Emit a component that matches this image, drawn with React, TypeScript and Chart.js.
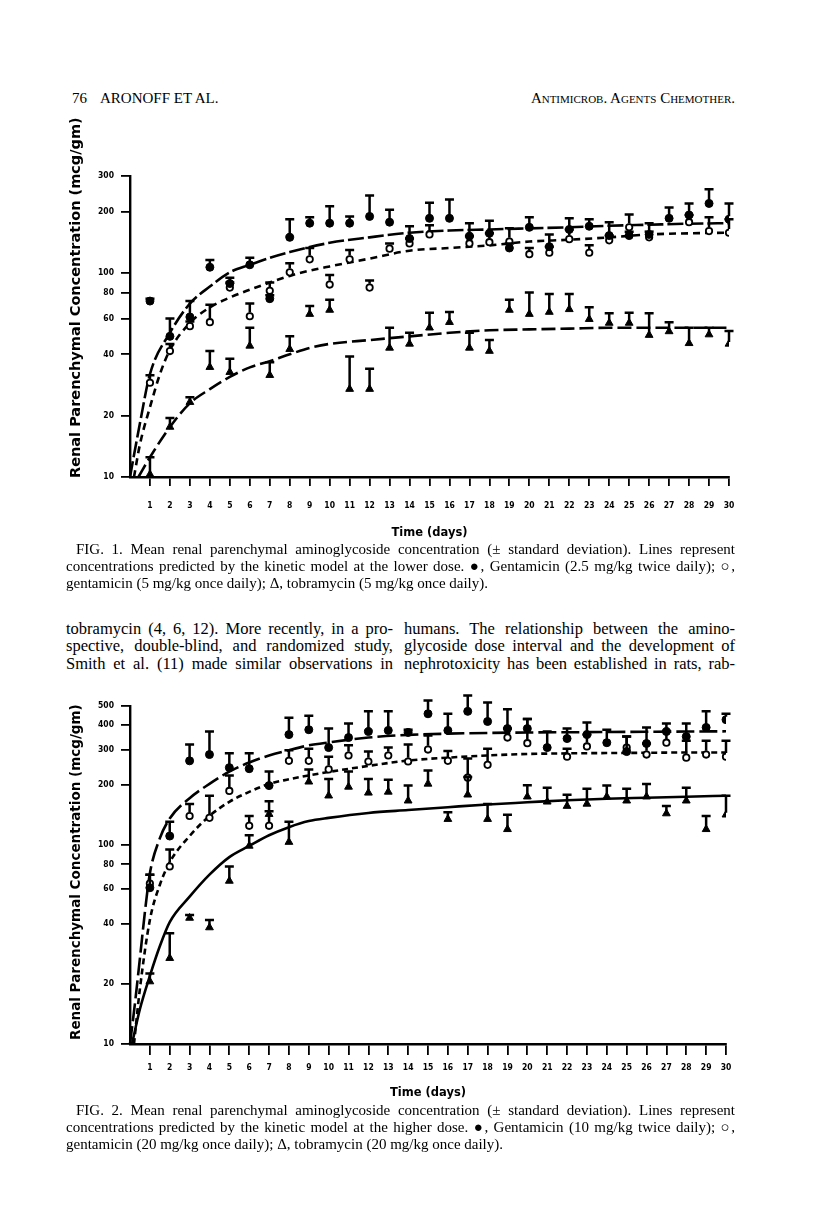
import React, { useEffect, useRef } from "react";
import { Chart, registerables } from "chart.js";

Chart.register(...registerables);

// ---------- shared axis data ----------
const DAYS = [1, 2, 3, 4, 5, 6, 7, 8, 9, 10, 11, 12, 13, 14, 15, 16, 17, 18, 19, 20, 21, 22, 23, 24, 25, 26, 27, 28, 29, 30];
const FIG1_Y_TICKS = [10, 20, 40, 60, 80, 100, 200, 300];
const FIG2_Y_TICKS = [10, 20, 40, 60, 80, 100, 200, 300, 400, 500];

// ---------- FIG. 1 (lower dose) ----------
const FIG1_GENT_BID_MEAN = [73, 49, 61, 107, 89, 110, 75, 150, 176, 176, 176, 190, 178, 148, 186, 186, 152, 157, 133, 168, 135, 164, 170, 153, 153, 155, 186, 193, 220, 184];
const FIG1_GENT_BID_UPPER = [75, 60, 73, 116, 95, 119, 78, 184, 188, 213, 190, 241, 205, 170, 222, 230, 176, 181, 140, 188, 155, 186, 184, 178, 160, 160, 210, 220, 258, 220];
const FIG1_GENT_QD_MEAN = [29, 41.5, 55, 57.5, 85, 61.5, 82, 101, 117, 88, 117, 85, 132, 140, 155, null, 140, 142, 143, 124, 126, 147, 126, 145, 168, 150, null, 178, 161, 158];
const FIG1_GENT_QD_UPPER = [31.6, 45, 58, 70, 90, 71, 90, 112, 133, 98, 130, 92, 140, 148, 172, null, 152, 157, 166, 133, 135, 164, 137, 153, 194, 176, null, 193, 188, 184];
const FIG1_TOBRA_MEAN = [10.3, 17.6, 23.3, 34.6, 32.7, 44, 31.6, 42.4, 63, 66, 27, 27, 43, 45, 54, 57.5, 43, 41.5, 66, 63, 64.5, 66.5, 59.5, 57, 57, 49.7, 51.8, 45.3, 50, 45];
const FIG1_TOBRA_UPPER = [12.5, 19.5, 24.6, 41.5, 38, 54, 36.6, 49, 69, 74, 39, 34, 54, 51, 64, 64.5, 51, 47, 74, 80.5, 79, 79, 68, 63.6, 64, 63.6, 57.5, 54, 54, 52];

const FIG1_BID_CURVE_DAYS = [0, 0.5, 1, 2, 3, 4, 5, 6, 7, 8, 10, 12, 14, 16, 18, 20, 22, 24, 26, 28, 30];
const FIG1_BID_CURVE = [10, 18.4, 32, 51, 71, 86, 101, 110, 119, 127, 141, 150, 158, 162, 164, 166, 168, 171, 173, 175, 176];
const FIG1_QD_CURVE_DAYS = [0.2, 0.5, 1, 1.5, 2, 3, 4, 5, 6, 7, 8, 9, 10, 12, 14, 16, 18, 20, 22, 24, 26, 28, 30];
const FIG1_QD_CURVE = [10, 14.5, 22, 32, 42, 57, 68, 76, 83, 90, 97, 103, 108, 118, 129, 133, 137, 143, 146, 150, 155, 157, 158];
const FIG1_TOBRA_CURVE_DAYS = [0.42, 1, 2, 3, 4, 5, 6, 7, 8, 9, 10, 12, 14, 16, 18, 20, 22, 24, 26, 28, 30];
const FIG1_TOBRA_CURVE = [10, 12.5, 17.6, 23, 27, 31, 34.5, 37, 40, 43, 45, 47, 49, 51, 52.5, 53, 53.5, 54, 54, 54, 54];

// ---------- FIG. 2 (higher dose) ----------
const FIG2_GENT_BID_MEAN = [61, 111, 265, 285, 245, 242, 199, 359, 380, 309, 347, 372, 377, 368, 457, 377, 470, 418, 385, 385, 309, 343, 359, 327, 295, 324, 372, 351, 390, 427];
const FIG2_GENT_BID_UPPER = [71, 131, 320, 372, 289, 289, 234, 437, 447, 385, 408, 470, 470, 380, 533, 457, 565, 520, 482, 430, 372, 385, 413, 380, 351, 390, 408, 408, 470, 457];
const FIG2_GENT_QD_MEAN = [64, 78, 140, 137, 187, 125, 125, 265, 265, 240, 282, 263, 282, 263, 302, 265, 218, 253, 347, 325, null, 278, 313, null, 309, 285, 327, 275, 285, 278];
const FIG2_GENT_QD_UPPER = [71, 95, 161, 177, 224, 140, 166, 300, 305, 278, 317, 295, 309, 320, 355, 297, 272, 305, 385, 430, null, 305, 359, null, 351, 324, 372, 334, 334, 334];
const FIG2_TOBRA_MEAN = [20.6, 27, 43, 38.5, 66, 99, 143, 103.5, 208, 177, 196, 183, 185, 167, 203, 135, 179, 135, 120, 175, 165, 157, 161, 175, 167, 175, 144, 167, 120, 142];
const FIG2_TOBRA_UPPER = [22.6, 36, 44.5, 42, 78, 112, 148, 131, 240, 215, 234, 215, 213, 199, 237, 146, 220, 161, 142, 200, 194, 179, 192, 199, 192, 203, 157, 194, 140, 177];

const FIG2_BID_CURVE_DAYS = [0, 0.25, 0.5, 0.75, 1, 1.5, 2, 3, 4, 5, 6, 7, 8, 9, 10, 12, 14, 16, 18, 20, 22, 24, 26, 28, 30];
const FIG2_BID_CURVE = [10, 16, 27, 46, 72, 108, 136, 172, 203, 234, 260, 282, 300, 317, 328, 347, 358, 363, 366, 368, 369, 370, 371, 372, 373];
const FIG2_QD_CURVE_DAYS = [0.2, 0.5, 1, 1.5, 2, 3, 4, 5, 6, 7, 8, 9, 10, 12, 14, 16, 18, 20, 22, 24, 26, 28, 30];
const FIG2_QD_CURVE = [10, 19, 42, 63, 82, 111, 140, 165, 185, 203, 214, 224, 233, 250, 266, 275, 282, 287, 289, 290, 291, 292, 292];
const FIG2_TOBRA_CURVE_DAYS = [0.1, 0.5, 1, 1.5, 2, 3, 4, 5, 6, 7, 8, 9, 10, 12, 14, 16, 18, 20, 22, 24, 26, 28, 30];
const FIG2_TOBRA_CURVE = [10, 15, 22, 31, 41, 55, 71, 87, 99, 112, 123, 132, 137, 145, 150, 155, 160, 164, 168, 171, 173, 175, 177];

const Y_TITLE = "Renal Parenchymal Concentration (mcg/gm)";
const X_TITLE = "Time (days)";
const TICK_FAMILY = '"DejaVu Sans Condensed", "Liberation Sans Narrow", "DejaVu Sans", sans-serif';
const SERIF = '"Liberation Serif", "DejaVu Serif", serif';

// ---------- plugins ----------
const errorBarPlugin = {
  id: "errorBars",
  afterDatasetsDraw(chart: any) {
    const ctx = chart.ctx;
    const xs = chart.scales.x;
    const ys = chart.scales.y;
    chart.data.datasets.forEach((ds: any) => {
      if (!ds.hasErrorBars) return;
      ctx.save();
      ctx.strokeStyle = "#000";
      ctx.lineWidth = 2.5;
      ds.data.forEach((p: any) => {
        if (p.up == null) return;
        const px = xs.getPixelForValue(p.x);
        const py = ys.getPixelForValue(p.y);
        const pu = ys.getPixelForValue(p.up);
        const start = py - ds.barGap;
        ctx.beginPath();
        if (pu < start) {
          ctx.moveTo(px, start);
          ctx.lineTo(px, pu);
        }
        ctx.moveTo(px - 4.5, pu);
        ctx.lineTo(px + 4.5, pu);
        ctx.stroke();
      });
      ctx.restore();
    });
  },
};

const yTitlePlugin = {
  id: "yTitle",
  afterDraw(chart: any, _args: any, o: any) {
    const ctx = chart.ctx;
    ctx.save();
    ctx.translate(o.x, chart.chartArea.bottom + o.dy);
    ctx.rotate(-Math.PI / 2);
    ctx.font = o.font;
    if ("letterSpacing" in ctx) ctx.letterSpacing = o.spacing;
    ctx.fillStyle = "#000";
    ctx.textAlign = "left";
    ctx.textBaseline = "middle";
    ctx.fillText(o.text, 0, 0);
    ctx.restore();
  },
};

function markers(mean: (number | null)[], upper: (number | null)[]) {
  const out: any[] = [];
  DAYS.forEach((d, i) => {
    if (mean[i] == null) return;
    out.push({ x: d, y: mean[i], up: upper[i] });
  });
  return out;
}

function curve(days: number[], vals: number[]) {
  return days.map((d, i) => ({ x: d, y: vals[i] }));
}

type Spec = {
  left: number; top: number; w: number; h: number;
  padTop: number; padRight: number; padBottom: number;
  xAxisHeight: number; xTickLen: number; xLabelPad: number; xTitlePad: number;
  yMax: number; yTicks: number[];
  yTitleFont: string; yTitleX: number; yTitleDy: number; yTitleSpacing: string;
  bidMean: (number | null)[]; bidUp: (number | null)[];
  qdMean: (number | null)[]; qdUp: (number | null)[];
  tobMean: (number | null)[]; tobUp: (number | null)[];
  bidCurve: { x: number; y: number }[]; qdCurve: { x: number; y: number }[]; tobCurve: { x: number; y: number }[];
  bidDash: number[]; qdDash: number[]; tobDash: number[];
};

function buildConfig(s: Spec): any {
  const tickFont = { family: TICK_FAMILY, size: 8.5, weight: "bold" };
  const lineDs = (data: any[], dash: number[]) => ({
    data,
    showLine: true,
    pointRadius: 0,
    borderColor: "#000",
    backgroundColor: "#000",
    borderWidth: 2.6,
    borderDash: dash,
    cubicInterpolationMode: "monotone",
    fill: false,
    clip: false,
  });
  return {
    type: "scatter",
    data: {
      datasets: [
        {
          label: "Gentamicin twice daily",
          data: markers(s.bidMean, s.bidUp),
          pointStyle: "circle",
          pointRadius: 4,
          backgroundColor: "#000",
          borderColor: "#000",
          borderWidth: 1,
          hasErrorBars: true,
          barGap: 3,
        },
        {
          label: "Gentamicin once daily",
          data: markers(s.qdMean, s.qdUp),
          pointStyle: "circle",
          pointRadius: 3.2,
          backgroundColor: "#fff",
          borderColor: "#000",
          borderWidth: 1.8,
          hasErrorBars: true,
          barGap: 3.8,
        },
        {
          label: "Tobramycin once daily",
          data: markers(s.tobMean, s.tobUp),
          pointStyle: "triangle",
          pointRadius: 4.5,
          backgroundColor: "#000",
          borderColor: "#000",
          borderWidth: 1,
          hasErrorBars: true,
          barGap: 2,
        },
        lineDs(s.bidCurve, s.bidDash),
        lineDs(s.qdCurve, s.qdDash),
        lineDs(s.tobCurve, s.tobDash),
      ],
    },
    options: {
      responsive: false,
      animation: false,
      devicePixelRatio: 1,
      layout: { padding: { left: 0, top: s.padTop, right: s.padRight, bottom: s.padBottom } },
      plugins: {
        legend: { display: false },
        tooltip: { enabled: false },
        yTitle: { text: Y_TITLE, font: s.yTitleFont, x: s.yTitleX, dy: s.yTitleDy, spacing: s.yTitleSpacing },
      },
      scales: {
        x: {
          type: "linear",
          min: 0,
          max: 30,
          position: "bottom",
          afterBuildTicks: (sc: any) => {
            sc.ticks = DAYS.map((v) => ({ value: v }));
          },
          afterFit: (sc: any) => {
            sc.height = s.xAxisHeight;
          },
          ticks: {
            autoSkip: false,
            maxRotation: 0,
            minRotation: 0,
            color: "#000",
            font: tickFont,
            padding: s.xLabelPad,
            callback: (v: any) => String(v),
          },
          grid: {
            display: true,
            drawOnChartArea: false,
            drawTicks: true,
            tickLength: s.xTickLen,
            color: "#000",
            lineWidth: 1.8,
          },
          border: { display: true, color: "#000", width: 2.4 },
          title: {
            display: true,
            text: X_TITLE,
            color: "#000",
            font: { family: '"DejaVu Sans", sans-serif', size: 11.5, weight: "bold" },
            padding: { top: 0, bottom: s.xTitlePad },
          },
        },
        y: {
          type: "logarithmic",
          min: 10,
          max: s.yMax,
          position: "left",
          afterBuildTicks: (sc: any) => {
            sc.ticks = s.yTicks.map((v) => ({ value: v }));
          },
          afterFit: (sc: any) => {
            sc.width = 70;
          },
          ticks: {
            autoSkip: false,
            color: "#000",
            font: tickFont,
            padding: 7,
            callback: (v: any) => String(v),
          },
          grid: {
            display: true,
            drawOnChartArea: false,
            drawTicks: true,
            tickLength: 9,
            color: "#000",
            lineWidth: 1.8,
          },
          border: { display: true, color: "#000", width: 2.4 },
        },
      },
    },
    plugins: [errorBarPlugin, yTitlePlugin],
  };
}

const FIG1_SPEC: Spec = {
  left: 60, top: 110, w: 700, h: 440,
  padTop: 66, padRight: 31, padBottom: 10,
  xAxisHeight: 63, xTickLen: 9, xLabelPad: 15, xTitlePad: 0,
  yMax: 300, yTicks: FIG1_Y_TICKS,
  yTitleFont: 'bold 14.5px "DejaVu Sans"', yTitleX: 16, yTitleDy: 1, yTitleSpacing: "0px",
  bidMean: FIG1_GENT_BID_MEAN, bidUp: FIG1_GENT_BID_UPPER,
  qdMean: FIG1_GENT_QD_MEAN, qdUp: FIG1_GENT_QD_UPPER,
  tobMean: FIG1_TOBRA_MEAN, tobUp: FIG1_TOBRA_UPPER,
  bidCurve: curve(FIG1_BID_CURVE_DAYS, FIG1_BID_CURVE),
  qdCurve: curve(FIG1_QD_CURVE_DAYS, FIG1_QD_CURVE),
  tobCurve: curve(FIG1_TOBRA_CURVE_DAYS, FIG1_TOBRA_CURVE),
  bidDash: [16, 4], qdDash: [7, 5], tobDash: [14, 5],
};

const FIG2_SPEC: Spec = {
  left: 60, top: 670, w: 700, h: 440,
  padTop: 36, padRight: 34, padBottom: 8,
  xAxisHeight: 58, xTickLen: 11, xLabelPad: 8, xTitlePad: 2,
  yMax: 500, yTicks: FIG2_Y_TICKS,
  yTitleFont: 'bold 13.5px "DejaVu Sans"', yTitleX: 16, yTitleDy: -4, yTitleSpacing: "0px",
  bidMean: FIG2_GENT_BID_MEAN, bidUp: FIG2_GENT_BID_UPPER,
  qdMean: FIG2_GENT_QD_MEAN, qdUp: FIG2_GENT_QD_UPPER,
  tobMean: FIG2_TOBRA_MEAN, tobUp: FIG2_TOBRA_UPPER,
  bidCurve: curve(FIG2_BID_CURVE_DAYS, FIG2_BID_CURVE),
  qdCurve: curve(FIG2_QD_CURVE_DAYS, FIG2_QD_CURVE),
  tobCurve: curve(FIG2_TOBRA_CURVE_DAYS, FIG2_TOBRA_CURVE),
  bidDash: [18, 5], qdDash: [6, 4], tobDash: [],
};

function FigureChart({ spec }: { spec: Spec }) {
  const ref = useRef<HTMLCanvasElement>(null);
  useEffect(() => {
    const chart = new Chart(ref.current as HTMLCanvasElement, buildConfig(spec));
    return () => chart.destroy();
  }, [spec]);
  return (
    <canvas
      ref={ref}
      width={spec.w}
      height={spec.h}
      style={{ position: "absolute", left: spec.left, top: spec.top, width: spec.w, height: spec.h }}
    />
  );
}

function Line({ left, top, width, text, justify, size, lh }: { left: number; top: number; width: number; text: string; justify: boolean; size: number; lh: number }) {
  return (
    <div
      style={{
        position: "absolute",
        left,
        top,
        width,
        fontFamily: SERIF,
        fontSize: size,
        lineHeight: lh + "px",
        height: lh,
        textAlign: justify ? "justify" : "left",
        textAlignLast: justify ? "justify" : "left",
        color: "#000",
      } as any}
    >
      {text}
    </div>
  );
}

const CAPTION1 = [
  "FIG. 1. Mean renal parenchymal aminoglycoside concentration (± standard deviation). Lines represent",
  "concentrations predicted by the kinetic model at the lower dose. ●, Gentamicin (2.5 mg/kg twice daily); ○,",
  "gentamicin (5 mg/kg once daily); Δ, tobramycin (5 mg/kg once daily).",
];
const CAPTION2 = [
  "FIG. 2. Mean renal parenchymal aminoglycoside concentration (± standard deviation). Lines represent",
  "concentrations predicted by the kinetic model at the higher dose. ●, Gentamicin (10 mg/kg twice daily); ○,",
  "gentamicin (20 mg/kg once daily); Δ, tobramycin (20 mg/kg once daily).",
];
const BODY_LEFT = [
  "tobramycin (4, 6, 12). More recently, in a pro-",
  "spective, double-blind, and randomized study,",
  "Smith et al. (11) made similar observations in",
];
const BODY_RIGHT = [
  "humans. The relationship between the amino-",
  "glycoside dose interval and the development of",
  "nephrotoxicity has been established in rats, rab-",
];

export default function App() {
  return (
    <div style={{ position: "absolute", left: 0, top: 0, width: 816, height: 1217, background: "#fff", overflow: "hidden" }}>
      <div style={{ position: "absolute", left: 72, top: 89, fontFamily: SERIF, fontSize: 15, lineHeight: "18px" }}>76</div>
      <div style={{ position: "absolute", left: 100, top: 89, fontFamily: SERIF, fontSize: 15, lineHeight: "18px" }}>ARONOFF ET AL.</div>
      <div
        style={{
          position: "absolute",
          left: 415,
          top: 89,
          width: 320,
          textAlign: "right",
          fontFamily: SERIF,
          fontSize: 15,
          lineHeight: "18px",
          fontVariant: "small-caps",
        }}
      >
        Antimicrob. Agents Chemother.
      </div>

      <FigureChart spec={FIG1_SPEC} />

      <Line left={76} top={540.5} width={659} text={CAPTION1[0]} justify size={15} lh={17} />
      <Line left={66} top={557.5} width={669} text={CAPTION1[1]} justify size={15} lh={17} />
      <Line left={66} top={574.5} width={669} text={CAPTION1[2]} justify={false} size={15} lh={17} />

      {BODY_LEFT.map((t, i) => (
        <Line key={"l" + i} left={66} top={619.5 + i * 17.5} width={327} text={t} justify size={16.5} lh={17.5} />
      ))}
      {BODY_RIGHT.map((t, i) => (
        <Line key={"r" + i} left={404} top={619.5 + i * 17.5} width={331} text={t} justify size={16.5} lh={17.5} />
      ))}

      <FigureChart spec={FIG2_SPEC} />

      <Line left={76} top={1101.5} width={659} text={CAPTION2[0]} justify size={15} lh={17} />
      <Line left={66} top={1118.5} width={669} text={CAPTION2[1]} justify size={15} lh={17} />
      <Line left={66} top={1135.5} width={669} text={CAPTION2[2]} justify={false} size={15} lh={17} />
    </div>
  );
}
